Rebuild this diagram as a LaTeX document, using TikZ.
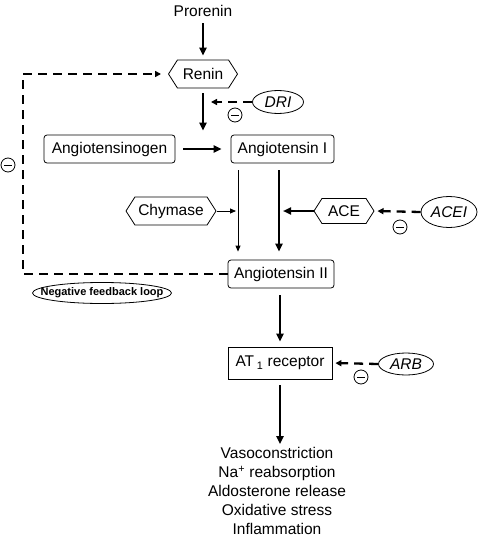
\documentclass[tikz,border=0pt]{standalone}
\usepackage{fontspec}
\setmainfont{Liberation Sans}
\usetikzlibrary{arrows.meta,shapes.geometric,shapes.symbols}
\begin{document}
\begin{tikzpicture}[x=1pt,y=-1pt,
  font=\fontsize{15.5}{19}\selectfont,
  box/.style={draw,line width=0.8pt,rounded corners=3pt,minimum height=28pt,inner sep=0pt},
  hex/.style={draw,line width=0.8pt,signal,signal to=east and west,signal pointer angle=115,inner sep=0pt,minimum height=28pt},
  drug/.style={draw,line width=0.8pt,ellipse,inner sep=0pt,font=\fontsize{15.5}{19}\selectfont\itshape},
  minus/.style={circle,draw,line width=0.8pt,minimum size=14pt,inner sep=0pt,
    path picture={\draw[line width=0.9pt] ([xshift=-4pt]path picture bounding box.center) -- ([xshift=4pt]path picture bounding box.center);}},
  thickarr/.style={line width=2.2pt,-{Triangle[length=8pt,width=7pt]}},
  thinarr/.style={line width=0.8pt,-{Triangle[length=6pt,width=5pt]}},
  dsh/.style={line width=2.3pt,dash pattern=on 9pt off 6pt,-{Triangle[length=6pt,width=6pt]}},
  dshline/.style={line width=2.3pt,dash pattern=on 9pt off 6pt}
]
\useasboundingbox (0,0) rectangle (478,538);

\node (pro) at (203,11) {Prorenin};
\node[hex,minimum width=69pt] (renin) at (203,74) {Renin};
\node[drug,minimum width=51pt,minimum height=23pt] (dri) at (278,102) {DRI};
\node[minus] (m1) at (235,115) {};
\node[box,minimum width=131pt] (agen) at (109.5,149) {Angiotensinogen};
\node[box,minimum width=103pt] (a1) at (282.5,149) {Angiotensin I};
\node[hex,minimum width=90pt] (chy) at (171,211) {Chymase};
\node[hex,minimum width=60pt,minimum height=25pt] (ace) at (344,211) {ACE};
\node[drug,minimum width=56pt,minimum height=31pt] (acei) at (449,212) {ACEI};
\node[minus] (m2) at (400,227) {};
\node[box,minimum width=106pt] (a2) at (281,274) {Angiotensin II};
\node[font=\fontsize{11}{12}\selectfont\bfseries,inner sep=0pt] (nfl) at (102,293) {Negative feedback loop};
\draw[line width=0.8pt] (nfl.center) ellipse [x radius=69.5pt,y radius=10.5pt];
\node[draw,line width=0.8pt,minimum width=104pt,minimum height=32pt,inner sep=0pt] (at1) at (280,363) {AT\,\textsubscript{1} receptor};
\node[drug,minimum width=55pt,minimum height=22pt] (arb) at (406,364) {ARB};
\node[minus] (m3) at (361,377) {};
\node[minus] (m0) at (8,165) {};
\node[align=center,inner sep=0pt] (out) at (277,491) {Vasoconstriction\\Na\textsuperscript{+} reabsorption\\Aldosterone release\\Oxidative stress\\Inflammation};

\coordinate (tl) at ([xshift=-44.5pt]a1.south);
\coordinate (tk) at ([xshift=-3.5pt]a1.south);
\coordinate (fbt) at (23,74);

\draw[thickarr,shorten <=3pt,shorten >=4pt] (pro.south -| renin.north) -- (renin.north);
\draw[thickarr,shorten <=5pt,shorten >=4pt] (renin.south) -- (renin.south |- a1.north);
\draw[dsh,shorten >=8pt] (dri.west) -- (dri.west -| renin.south);
\draw[thickarr,shorten <=8pt,shorten >=9pt] (agen.east) -- (a1.west);
\draw[thinarr,shorten <=7pt,shorten >=8pt] (tl) -- (tl |- a2.north);
\draw[thickarr,shorten <=7pt,shorten >=8pt] (tk) -- (tk |- a2.north);
\draw[thinarr,shorten <=1pt,shorten >=2pt] (chy.east) -- (chy.east -| tl);
\draw[thickarr,shorten >=4pt] (ace.west) -- (ace.west -| tk);
\draw[dsh,shorten >=3pt] (acei.west) -- (ace.east);
\draw[dshline] (a2.west) -| (fbt);
\draw[dsh,shorten >=7pt] (fbt) -- (renin.west);
\draw[thickarr,shorten <=7pt,shorten >=5pt] (at1.north |- a2.south) -- (at1.north);
\draw[dsh,shorten >=3pt] (arb.west) -- (at1.east);
\draw[thickarr,shorten <=6pt,shorten >=3pt] (at1.south) -- (at1.south |- out.north);
\end{tikzpicture}
\end{document}
